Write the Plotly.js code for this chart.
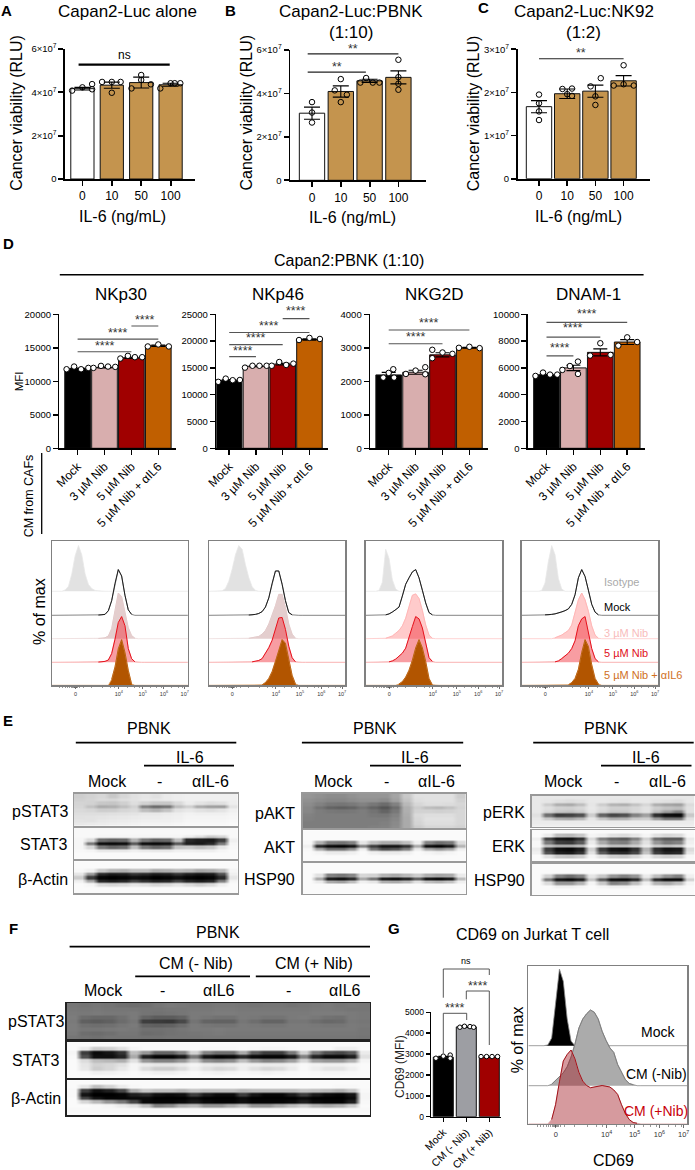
<!DOCTYPE html>
<html><head><meta charset="utf-8">
<script src="https://cdn.plot.ly/plotly-3.0.1.min.js"></script>
<style>html,body{margin:0;padding:0;background:#fff}</style></head>
<body><div id="chart" style="width:695px;height:1170px"></div>
<script>
/* ---------- bar chart values ---------- */
const doses=['0','10','50','100'];
const nibCats=['Mock','3 µM Nib','5 µM Nib','5 µM Nib + αIL6'];
const cmCats=['Mock','CM (- Nib)','CM (+ Nib)'];
const aMeans=[41.7e6,43.3e6,44.5e6,43.5e6], aErr=[.6e6,1.4e6,2.5e6,.7e6];
const aPts=[[40.8e6,42.3e6,43.8e6,41.4e6],[44.8e6,44.8e6,44.8e6,39.8e6],[41.8e6,45.7e6,43.7e6,48e6],[41.8e6,44.2e6,44.2e6,44.2e6]];
const aJit=[[-.35,0,.33,.33],[-.33,0,.3,0],[-.33,0,.33,0],[-.35,0,.33,.14]];
const bMeans=[30.9e6,40.9e6,45.8e6,47.4e6], bErr=[2.8e6,2.6e6,.7e6,3e6];
const bPts=[[36e6,31.2e6,26.6e6],[46.6e6,41.4e6,39.4e6,36e6],[45e6,47.1e6,45e6,45e6],[55.5e6,47.5e6,44.5e6,41.7e6]];
const bJit=[[0,0,0],[0,-.21,.21,0],[-.32,-.12,.11,.34],[0,0,0,0]];
const cMeans=[16.7e6,19.7e6,20.3e6,22.7e6], cErr=[1.4e6,1.1e6,1.4e6,1.2e6];
const cPts=[[19.5e6,17.5e6,15.6e6,13.6e6],[20.8e6,20.9e6,19.6e6,19.2e6],[21.4e6,23.3e6,19.1e6,17.1e6],[26.3e6,21.6e6,21.9e6,21.6e6]];
const cJit=[[0,0,0,0],[-.17,.17,0,.17],[-.17,.19,0,0],[0,-.35,0,.36]];
const nkp30Means=[11900,12050,13500,15300], nkp30Err=[90,70,90,100];
const nkp30Pts=[[11800,12200,11800,12000],[12000,12300,12200,12150],[13400,13800,13600,13600],[15200,15500,15200]];
const nkp46Means=[12700,15300,15700,20300], nkp46Err=[130,90,170,110];
const nkp46Pts=[[12400,13000,12700,12750],[15050,15400,15400,15400],[15400,16100,15550,15800],[20200,20600,20400]];
const nkg2dMeans=[2190,2270,2790,3000], nkg2dErr=[75,60,60,15];
const nkg2dPts=[[2110,2250,2360,2110],[2220,2320,2420,2210],[2940,2860,2820,2690],[3000,3030,2990]];
const dnamMeans=[5480,6000,7160,7930], dnamErr=[50,200,260,180];
const dnamPts=[[5400,5650,5500,5500],[5850,6140,6470,5550],[6920,7840,6970],[7660,8280,7930]];
const dnamJit=[[-.41,-.13,.13,.4],[-.41,-.13,.17,.17],[-.38,0,.38],[-.33,0,.37]];
const nkg2dJit=[[-.2,0,.17,.2],[-.36,0,.36,.36],[-.38,0,.37,-.38],[-.39,0,.38]];
const jit4=[[-.41,-.13,.13,.4],[-.41,-.13,.13,.4],[-.41,-.13,.13,.4],[-.39,0,.39]];
const cd69Means=[2850,4300,2860], cd69Err=[40,20,10];
const cd69Pts=[[2800,2900,2950,2800],[4285,4330,4315,4285],[2880,2880,2880,2880]];
const cd69Jit=[[-.32,0,.3,.3],[-.28,-.08,.16,.32],[-.36,-.12,.12,.36]];

/* ---------- flow histograms: channel grid and % of max ---------- */
const chan=[75,100,125,150,175,200,225,250,275,300,325,350,375,400,425,450,475,500,525,550,575,600,625,650,675,700,725];
const p1iso =[0,3,11,38,78,100,80,38,15,6,2,1,0,0,0,0,0,0,0,0,0,0,0,0,0,0,0];
const p1mock=[0,0,0,0,0,0,0,0,0,0,0,.5,1,2,10,32,70,100,86,44,12,2,0,0,0,0,0];
const p1n3  =[0,0,0,0,0,0,0,0,0,0,0,.5,1,2,6,22,62,100,92,55,24,7,1,0,0,0,0];
const p1n5  =[0,0,0,0,0,0,0,0,0,0,0,.5,1,2,5,19,50,87,100,80,30,8,1,0,0,0,0];
const p1il6 =[0,0,0,0,0,0,0,0,0,0,0,0,0,0,0,13,40,80,100,72,33,3,0,0,0,0,0];
const p2iso =[0,1,6,22,48,80,100,92,58,30,10,2,0,0,0,0,0,0,0,0,0,0,0,0,0,0,0];
const p2mock=[0,0,0,0,0,0,0,0,0,.5,1,2,4,8,18,38,70,97,97,68,32,6,1,0,0,0,0];
const p2n3  =[0,0,0,0,0,0,0,0,0,1,2,3,5,10,18,32,50,72,97,97,68,32,10,1,0,0,0];
const p2n5  =[0,0,0,0,0,0,0,0,0,0,1,2,4,8,19,32,48,75,97,98,72,35,10,1,0,0,0];
const p2il6 =[0,0,0,0,0,0,0,0,0,0,0,0,0,1,6,15,30,52,78,100,92,58,22,3,0,0,0];
const p3iso =[0,2,20,92,72,25,5,0,0,0,0,0,0,0,0,0,0,0,0,0,0,0,0,0,0,0,0];
const p3mock=[0,0,0,1,3,7,12,18,42,68,82,95,100,82,55,27,6,1,0,0,0,0,0,0,0,0,0];
const p3n3  =[0,0,0,1,3,6,12,18,28,45,70,95,98,88,62,30,8,1,0,0,0,0,0,0,0,0,0];
const p3n5  =[0,0,0,0,1,3,7,13,20,31,52,78,100,95,75,42,10,2,0,0,0,0,0,0,0,0,0];
const p3il6 =[0,0,0,0,0,0,0,3,8,18,33,55,82,100,82,52,15,1,0,0,0,0,0,0,0,0,0];
const p4iso =[0,0,0,2,18,65,100,80,28,5,0,0,0,0,0,0,0,0,0,0,0,0,0,0,0,0,0];
const p4mock=[0,0,0,0,1,1,2,3,5,7,10,14,24,45,82,100,85,55,24,7,1,0,0,0,0,0,0];
const p4n3  =[0,0,0,0,0,0,0,2,5,8,13,18,30,55,85,100,85,60,28,8,1,0,0,0,0,0,0];
const p4n5  =[0,0,0,0,0,0,0,1,3,8,14,20,30,47,80,95,100,65,30,8,1,0,0,0,0,0,0];
const p4il6 =[0,0,0,0,0,0,0,0,0,0,0,1,6,15,35,72,100,85,45,15,3,0,0,0,0,0,0];
const gBlack=[0,0,1,10,55,100,84,35,6,0,0,0,0,0,0,0,0,0,0,0,0,0,0,0,0,0,0];
const gGray =[0,0,0,2,7,12,17,25,38,55,76,88,95,100,97,88,72,60,50,44,28,18,8,3,1,0,0];
const gRed  =[0,0,0,6,26,57,85,94,100,88,70,58,52,49,50,52,52,51,50,46,40,26,14,6,2,1,0];
const flowMain=[177,504,684,844,1000];
const flowMainText=['0','10<sup>4</sup>','10<sup>5</sup>','10<sup>6</sup>','10<sup>7</sup>'];
const flowMinor=[60,80,100,118,132,144,154,162,168,172,182,188,196,210,235,300,380,440,475,570,620,660,740,790,825,900,950,985];

/* ---------- western blot intensities (grey level, rows top to bottom) ---------- */
const e15=v=>Array(15).fill(v), e25=v=>Array(25).fill(v);
const blotE1a=[[205,210,215,200,215,225,230,225,235,238,240,240,240,240,240],[208,212,218,215,222,226,232,230,235,238,240,240,240,240,240],[212,210,200,198,208,222,210,200,200,218,236,228,222,225,238],[214,195,172,176,192,210,130,108,118,190,208,172,160,158,228],[218,214,205,206,214,218,190,178,195,226,232,226,222,228,240],[222,222,222,224,226,228,232,232,235,238,242,240,240,240,244],[225,226,228,230,232,234,236,236,238,240,244,244,244,244,246],[228,226,232,234,236,238,240,240,240,242,246,246,246,246,248],[232,234,236,238,240,242,244,244,244,246,248,248,248,248,250]];
const blotE1b=[e15(248),e15(248),[248,248,246,246,246,246,246,246,246,246,238,225,205,215,248],[246,220,110,100,105,180,120,100,105,190,40,30,25,60,240],[246,120,15,10,15,90,15,10,15,90,30,25,40,120,246],[246,215,120,100,110,190,120,100,110,195,200,190,200,230,248],[248,245,232,232,232,240,234,232,232,240,240,238,238,246,250],e15(250),e15(250)];
const blotE1c=[e15(250),e15(250),[248,240,200,180,175,190,190,170,175,185,180,165,170,185,245],[230,150,40,25,30,50,40,25,30,50,30,20,25,80,240],[205,60,5,0,5,15,10,0,5,15,5,0,5,40,230],[240,170,40,30,40,70,50,35,40,70,40,30,40,130,245],[250,245,220,215,220,230,225,215,220,230,220,210,220,240,250],e15(250),e15(250)];
const blotE2a=[[150,145,140,140,145,150,150,150,165,200,225,225,225,225,205],[145,140,135,135,140,145,145,140,160,195,222,225,225,225,210],[140,130,120,118,122,130,120,108,130,185,215,222,222,220,215],[135,115,100,95,100,115,100,85,110,175,205,190,185,195,212],[135,125,120,118,120,125,115,100,120,175,210,210,208,210,215],[130,125,125,125,125,125,120,118,130,172,218,222,222,222,215],[128,125,125,125,125,125,125,125,135,170,215,225,225,225,215],[125,125,125,125,125,125,125,128,138,170,212,222,222,222,215],[125,125,125,125,125,125,128,130,140,170,205,215,215,215,210]];
const blotE2b=[e15(250),e15(250),e15(250),[248,175,120,115,130,230,190,170,170,190,240,130,110,120,220],[240,40,10,5,20,130,60,20,20,50,170,15,5,25,180],[248,170,115,115,150,240,120,80,90,130,235,170,150,170,240],[250,245,235,235,240,250,240,235,235,240,250,245,240,245,250],e15(250),e15(250)];
const blotE2c=[e15(250),e15(250),e15(250),[250,225,130,120,135,215,210,180,170,185,205,175,165,170,235],[250,170,30,20,45,170,120,30,20,40,100,25,15,30,190],[250,235,170,160,190,240,230,175,170,185,225,190,180,195,240],e15(250),e15(250),e15(250)];
const blotE3a=[e15(232),[232,230,225,222,225,232,232,230,228,232,232,228,225,222,232],[232,205,175,170,190,230,205,180,175,195,215,175,165,160,220],[232,222,210,208,215,232,220,208,208,215,225,205,195,190,225],[232,215,200,195,205,230,215,200,200,215,225,190,160,130,225],[225,110,60,65,80,205,100,70,80,130,160,45,15,10,200],[232,200,170,165,180,230,195,170,175,200,205,150,110,110,225],e15(235),e15(238)];
const blotE3b=[e15(250),[250,235,190,185,200,245,240,225,220,230,245,225,215,220,248],[240,70,25,20,50,220,130,100,90,130,210,110,90,90,235],[248,120,60,55,90,235,170,130,125,170,225,150,120,130,240],[248,190,170,170,185,245,215,190,190,205,235,200,190,200,245],[235,60,15,10,30,210,60,20,15,50,180,45,20,25,220],[240,80,30,25,50,225,90,45,40,70,195,60,35,40,230],[250,225,200,195,205,245,225,205,200,215,240,215,205,210,248],e15(250)];
const blotE3c=[e15(250),e15(250),e15(250),[250,210,130,110,130,230,200,150,130,150,235,190,150,130,240],[250,120,20,10,30,200,90,15,10,40,190,40,10,10,210],[250,220,150,150,180,245,200,130,140,190,240,180,170,190,245],[250,250,240,240,245,250,245,240,240,245,250,245,240,245,250],e15(250),e15(250)];
const blotFa=[[118,115,118,116,112,110,112,118,122,120,118,118,120,120,118,116,118,118,115,118,120,122,118,120,118],[120,118,120,118,118,118,116,116,118,118,120,120,122,122,120,120,120,120,120,120,122,122,120,118,118],[122,120,122,120,120,122,116,114,116,118,122,122,124,124,122,122,122,122,122,122,124,124,124,122,120],[124,108,104,104,112,122,100,92,92,98,122,118,114,114,122,120,116,116,122,124,120,114,112,122,120],[122,96,92,96,108,118,62,58,55,72,116,100,98,98,118,110,100,100,118,118,110,104,106,120,118],[124,112,110,112,118,122,98,95,98,108,122,118,116,116,122,120,118,118,122,122,120,118,118,122,120],[124,118,118,120,122,120,112,112,114,118,122,122,124,122,122,122,122,122,122,122,122,122,122,122,118],[122,110,108,112,118,118,108,110,114,116,118,120,122,120,120,120,120,120,120,120,120,120,120,120,118],[118,114,112,116,116,116,114,114,116,116,116,118,118,118,118,118,118,118,118,118,118,118,118,118,116]];
const blotFb=[e25(250),[250,235,205,210,225,245,250,250,250,250,250,248,248,248,250,248,246,246,248,250,250,250,240,240,250],[245,60,10,20,50,190,150,100,100,130,210,130,110,110,170,90,60,60,120,210,120,80,70,90,235],[248,80,15,15,35,170,30,5,5,25,120,20,5,10,40,10,5,5,25,130,35,10,10,30,225],[250,220,190,185,175,225,150,130,130,150,200,140,130,140,190,150,130,135,160,215,160,150,150,175,245],[250,230,210,215,225,245,235,230,230,235,245,235,232,235,240,238,235,235,240,248,242,240,240,245,250],[250,232,205,215,232,245,220,205,205,220,240,225,215,220,238,225,215,220,235,248,238,228,228,240,250],[250,248,240,242,246,250,245,240,240,245,250,245,242,245,248,245,242,245,248,250,248,246,246,248,250],e25(250)];
const blotFc=[e25(250),[250,230,190,210,235,248,250,250,250,250,250,250,250,250,250,250,250,250,250,250,250,250,248,248,250],[248,60,15,30,70,170,200,190,190,180,195,190,190,190,180,185,185,185,185,195,190,185,175,195,248],[248,20,0,0,5,30,40,15,10,15,60,25,10,10,60,20,5,5,25,60,25,10,5,20,245],[250,70,20,5,5,10,10,0,0,0,10,0,0,0,10,0,0,0,0,10,0,0,0,10,245],[250,215,185,150,120,70,10,5,5,10,25,10,5,5,15,5,5,5,10,30,10,5,5,30,248],[250,250,248,245,235,225,190,130,140,175,185,150,150,170,190,150,150,170,190,205,180,170,180,205,250],e25(248),e25(250)];

/* ---------- helpers ---------- */
const W=695,H=1170;
const SANS='"Liberation Sans",Arial,sans-serif';
const traces=[],annotations=[],shapes=[],layout={};
let axisN=0;
const px=x=>x/W, py=y=>1-y/H;
function T(x,y,text,size,opt={}){annotations.push({xref:'paper',yref:'paper',x:px(x),y:py(y),text,showarrow:false,
  xanchor:opt.anchor||'center',yanchor:'middle',textangle:opt.rot||0,borderpad:0,
  font:{family:SANS,size,color:opt.color||'#000',weight:opt.bold?700:400}});}
function L(x0,y0,x1,y1,w=1.5,color='#000'){shapes.push({type:'line',xref:'paper',yref:'paper',x0:px(x0),y0:py(y0),x1:px(x1),y1:py(y1),line:{width:w,color}});}
function axes(box,xc,yc){axisN++;const n=axisN,s=n===1?'':n;const [l,r,t,b]=box;
  const base={showgrid:false,zeroline:false,automargin:false,fixedrange:true};
  layout['xaxis'+s]=Object.assign({},base,{domain:[px(l),px(r)],anchor:'y'+s},xc);
  layout['yaxis'+s]=Object.assign({},base,{domain:[py(b),py(t)],anchor:'x'+s},yc);
  return {x:'x'+s,y:'y'+s};}
function barPanel(c){
  const [l,r,top,bot]=c.box;
  const ax=axes(c.box,
    {range:[(l-c.c0)/c.sp,(r-c.c0)/c.sp],tickmode:'array',tickvals:c.cats.map((_,i)=>i),ticktext:c.cats,tickangle:c.angle||0,
     ticks:'outside',ticklen:c.tlen||5,tickwidth:c.lw,tickcolor:'#000',showline:true,linecolor:'#000',linewidth:c.lw,
     tickfont:{family:SANS,size:c.xfont,color:'#000'}},
    {range:[0,c.ymax],tickmode:'array',tickvals:c.yv,ticktext:c.yt,ticks:'outside',ticklen:c.tlen||5,tickwidth:c.lw,tickcolor:'#000',
     showline:true,linecolor:'#000',linewidth:c.lw,tickfont:{family:SANS,size:c.yfont,color:'#000'}});
  traces.push({type:'bar',x:c.cats.map((_,i)=>i),y:c.means,width:c.bw,xaxis:ax.x,yaxis:ax.y,
    marker:{color:c.colors,line:{color:c.blc||'#111',width:1}},
    error_y:{type:'data',array:c.err,color:'#000',thickness:1.1,width:c.capw||8,symmetric:true}});
  c.pts.forEach((vals,i)=>traces.push({type:'scatter',mode:'markers',x:vals.map((_,j)=>i+c.jit[i][j]),y:vals,xaxis:ax.x,yaxis:ax.y,cliponaxis:false,
    marker:{size:c.ms||5.5,color:c.mfill,line:{color:'#000',width:1}}}));
  (c.sig||[]).forEach(s=>{
    traces.push({type:'scatter',mode:'lines',x:[s[0],s[1]],y:[s[2],s[2]],xaxis:ax.x,yaxis:ax.y,cliponaxis:false,line:{color:s[5]||'#555',width:s[6]||1.1}});
    if(s[4]) T(c.c0+c.sp*(s[0]+s[1])/2, bot-(s[3]/c.ymax)*(bot-top), s[4], 12.5, {color:'#333'});
  });
  return ax;
}
function flowPanel(box,series,tickSize){
  const ax=axes(box,
    {range:[0,1024],tickmode:'array',tickvals:flowMain,ticktext:flowMainText,ticks:'outside',ticklen:2.5,tickwidth:.7,tickcolor:'#333',
     minor:{tickmode:'array',tickvals:flowMinor,ticks:'outside',ticklen:1.5,tickwidth:.5,tickcolor:'#333'},
     showline:true,mirror:true,linecolor:'#808080',linewidth:1.3,tickfont:{family:SANS,size:tickSize,color:'#333'},tickangle:0},
    {range:[0,box[3]-box[2]],showticklabels:false,ticks:'',showline:true,mirror:true,linecolor:'#808080',linewidth:1.3});
  series.forEach(s=>{
    const yv=s.v.map(v=>s.base+v*s.scale);
    traces.push({type:'scatter',mode:'lines',x:[0,...chan,1024],y:[s.base,...yv,s.base],fill:'toself',fillcolor:s.fill,xaxis:ax.x,yaxis:ax.y,line:{color:s.basec,width:.8},hoverinfo:'skip'});
    if(s.line) traces.push({type:'scatter',mode:'lines',x:chan,y:s.v.map((v,i)=>v>0?yv[i]:null),xaxis:ax.x,yaxis:ax.y,line:{color:s.line,width:s.lw||1},hoverinfo:'skip'});
  });
}
/* each read grey level is shown as a small plateau so that the smoothing keeps the bands crisp */
const plateau=z=>z.flatMap(r=>{const row=r.flatMap(v=>[v,v]);return [row,row];});
function blot(box,z0,frame,fw){
  const z=plateau(z0);
  const ax=axes(box,{range:[-.5,z[0].length-.5],showticklabels:false,ticks:'',showline:true,mirror:true,linecolor:frame,linewidth:fw},
    {range:[z.length-.5,-.5],showticklabels:false,ticks:'',showline:true,mirror:true,linecolor:frame,linewidth:fw});
  traces.push({type:'heatmap',z,xaxis:ax.x,yaxis:ax.y,zmin:0,zmax:255,zsmooth:'best',showscale:false,hoverinfo:'skip',
    colorscale:[[0,'#000'],[1,'#fff']]});
}

/* ---------- panels A B C ---------- */
const TAN='#c4944e';
const tanColors=['#fff',TAN,TAN,TAN];
const sup7=(a)=>a+'×10<sup>7</sup>';
barPanel({box:[65.2,195,49,179],c0:82.4,sp:29.4,cats:doses,bw:.79,means:aMeans,err:aErr,pts:aPts,jit:aJit,colors:tanColors,mfill:'rgba(0,0,0,0)',
  ymax:6e7,yv:[0,2e7,4e7,6e7],yt:['0',sup7(2),sup7(4),sup7(6)],lw:1.8,xfont:12,yfont:9.5,
  sig:[[-.13,2.97,52.8e6,57.5e6,'','#000',2.2]]});
barPanel({box:[290.3,425.5,50,180.3],c0:312,sp:28.8,cats:doses,bw:.88,means:bMeans,err:bErr,pts:bPts,jit:bJit,colors:tanColors,mfill:'rgba(0,0,0,0)',
  ymax:6e7,yv:[0,2e7,4e7,6e7],yt:['0',sup7(2),sup7(4),sup7(6)],lw:1.8,xfont:12,yfont:9.5,
  sig:[[-.15,3,58.2e6,60.5e6,'**','#222',1.1],[-.15,1.87,49.8e6,52e6,'**','#222',1.1]]});
barPanel({box:[517.7,650.3,49.3,178.7],c0:539,sp:28.2,cats:doses,bw:.9,means:cMeans,err:cErr,pts:cPts,jit:cJit,colors:tanColors,mfill:'rgba(0,0,0,0)',
  ymax:3e7,yv:[0,1e7,2e7,3e7],yt:['0',sup7(1),sup7(2),sup7(3)],lw:1.8,xfont:12,yfont:9.5,
  sig:[[0,3,27.8e6,29.2e6,'**','#222',1.1]]});
T(6.6,11,'A',15,{bold:1});T(230.5,11,'B',15,{bold:1});T(483.2,8,'C',15,{bold:1});
T(127.2,12,'Capan2-Luc alone',17);T(351,12,'Capan2-Luc:PBNK',17);T(351,32,'(1:10)',17);T(583.8,12,'Capan2-Luc:NK92',17);T(583.8,32,'(1:2)',17);
[16.8,246.5,474.3].forEach(x=>T(x,113,'Cancer viability (RLU)',16,{rot:-90}));
T(122.8,216,'IL-6 (ng/mL)',16);T(352,217,'IL-6 (ng/mL)',16);T(578.9,216,'IL-6 (ng/mL)',16);
T(124.1,55.3,'ns',12);

/* ---------- panel D bars ---------- */
const nibColors=['#000','#d8aeae','#a00000','#c05f00'];
const dCfg={cats:nibCats,bw:.955,colors:nibColors,mfill:'#fff',lw:1.5,xfont:12,yfont:9.5,angle:-45,capw:7};
const S='****';
barPanel({...dCfg,box:[59.4,176.4,314.3,448.3],c0:77.6,sp:26.9,means:nkp30Means,err:nkp30Err,pts:nkp30Pts,jit:jit4,
  ymax:20000,yv:[0,5000,10000,15000,20000],yt:['0','5000','10000','15000','20000'],
  sig:[[0,2,14400,15300,S],[0,3,16300,17200,S],[2,3,18260,19200,S]]});
barPanel({...dCfg,box:[216.3,328,314.3,448.3],c0:229.2,sp:26.75,means:nkp46Means,err:nkp46Err,pts:nkp46Pts,jit:jit4,
  ymax:25000,yv:[0,5000,10000,15000,20000,25000],yt:['0','5000','10000','15000','20000','25000'],
  sig:[[0,1,17100,18200,S],[0,2,19350,20600,S],[0,3,21600,22900,S],[2,3,24200,25600,S]]});
barPanel({...dCfg,box:[370.1,487.6,314.3,448.3],c0:388.7,sp:26.9,means:nkg2dMeans,err:nkg2dErr,pts:nkg2dPts,jit:nkg2dJit,
  ymax:4000,yv:[0,1000,2000,3000,4000],yt:['0','1000','2000','3000','4000'],
  sig:[[0,2,3120,3330,S],[0,3,3530,3740,S]]});
barPanel({...dCfg,box:[527.9,645.4,314.3,448.3],c0:546.5,sp:26.9,means:dnamMeans,err:dnamErr,pts:dnamPts,jit:dnamJit,
  ymax:10000,yv:[0,2000,4000,6000,8000,10000],yt:['0','2000','4000','6000','8000','10000'],
  sig:[[0,1,6900,7500,S],[0,2,8300,9000,S],[0,3,9400,10000,S]]});
T(8,243,'D',15,{bold:1});
T(349.3,260.7,'Capan2:PBNK (1:10)',16);L(59.8,274.7,643.6,274.7,1.6);
T(120.6,294,'NKp30',17);T(277.9,294,'NKp46',17);T(434,294,'NKG2D',17);T(588.2,294,'DNAM-1',17);
T(18.6,381.7,'MFI',11.5,{rot:-90});
T(29.3,496,'CM from CAFs',12.5,{rot:-90});L(41.7,453,41.7,534,1.3);

/* ---------- panel D flow ---------- */
const flowBoxes=[[51.9,187.9,541,685.3],[208.8,345.3,541,685.3],[365.7,502.2,541,685.3],[521.7,658.3,541,685.3]];
const flowData=[[p1iso,p1mock,p1n3,p1n5,p1il6],[p2iso,p2mock,p2n3,p2n5,p2il6],[p3iso,p3mock,p3n3,p3n5,p3il6],[p4iso,p4mock,p4n3,p4n5,p4il6]];
const rowBase=[94,70,46.6,23,0];
flowData.forEach((d,i)=>{
  const pale=i>=2;
  flowPanel(flowBoxes[i],[
    {v:d[0],base:rowBase[0],scale:.457,fill:'#e2e2e2',basec:'#e8e8e8'},
    {v:d[1],base:rowBase[1],scale:.457,fill:'rgba(0,0,0,0)',basec:'#666',line:'#111',lw:.9},
    {v:d[2],base:rowBase[2],scale:.457,fill:pale?'rgba(255,130,130,.42)':'rgba(185,125,125,.38)',basec:pale?'#ffc8c8':'#eedddd',line:pale?'#ffb0b0':'#e0c4c4',lw:.8},
    {v:d[3],base:rowBase[3],scale:.457,fill:'rgba(240,50,60,.48)',basec:'#f7a0a0',line:'#e6101c',lw:1},
    {v:d[4],base:rowBase[4],scale:.457,fill:'#b25500',basec:'#e0a060',line:'#b25500',lw:.8}
  ],5.5);
});
T(39,612,'% of max',16,{rot:-90});
T(602.8,581.7,'Isotype',11,{anchor:'left',color:'#aaa'});
T(602.8,607,'Mock',11,{anchor:'left'});
T(602.8,632.7,'3 µM Nib',11,{anchor:'left',color:'#f8bcbc'});
T(602.8,653,'5 µM Nib',11,{anchor:'left',color:'#e01020'});
T(602.8,675,'5 µM Nib + αIL6',11,{anchor:'left',color:'#d0701e'});

/* ---------- panel E ---------- */
T(8,720,'E',15,{bold:1});
const eCols=[
 {pb:149.4,pbl:[75.8,236.3],il:189.7,ill:[144,234],m:107.3,d:159.6,a:210.5,box:[74,237.6],rows:[[793.7,825.7],[827.7,859],[861.3,893.3]],names:['pSTAT3','STAT3','β-Actin'],lab:68.7,ly:[811,844.7,879],z:[blotE1a,blotE1b,blotE1c]},
 {pb:375.4,pbl:[301.9,463.2],il:415.3,ill:[370,461],m:333.8,d:386,a:436.6,box:[302.7,465.9],rows:[[793.7,828.3],[830.3,861],[863,893.7]],names:['pAKT','AKT','HSP90'],lab:296,ly:[813,847,879.3],z:[blotE2a,blotE2b,blotE2c]},
 {pb:606.4,pbl:[533.2,693.7],il:646.3,ill:[601,691.5],m:563.8,d:616,a:667,box:[531.5,694.5],rows:[[795.7,827],[830,861],[863.7,895]],names:['pERK','ERK','HSP90'],lab:526,ly:[812.7,846.7,880],z:[blotE3a,blotE3b,blotE3c]}];
eCols.forEach(c=>{
  T(c.pb,728.7,'PBNK',16);L(c.pbl[0],742.7,c.pbl[1],742.7,1.7);
  T(c.il,757,'IL-6',16);L(c.ill[0],765.7,c.ill[1],765.7,1.7);
  T(c.m,781.7,'Mock',16);T(c.d,781.7,'-',16);T(c.a,781.7,'αIL-6',16);
  c.rows.forEach((r,i)=>{blot([c.box[0],c.box[1],r[0],r[1]],c.z[i],'#999',1.4);T(c.lab,c.ly[i],c.names[i],16,{anchor:'right'});});
});

/* ---------- panel F ---------- */
T(13.3,928,'F',15,{bold:1});
T(218,932.7,'PBNK',16);L(69.6,946.7,370,946.7,1.7);
T(196,963.3,'CM (- Nib)',16);L(135.2,976.3,250,976.3,1.7);
T(313.8,963.3,'CM (+ Nib)',16);L(255.8,976.3,370,976.3,1.7);
T(103.7,990,'Mock',16);T(162.2,990,'-',16);T(218.5,990,'αIL6',16);T(288.6,990,'-',16);T(344.9,990,'αIL6',16);
blot([66.5,370,1003,1039.3],blotFa,'#222',1.2);
blot([66.5,370,1042.3,1078],blotFb,'#222',1.2);
blot([66.5,370,1080.3,1115.3],blotFc,'#222',1.2);
T(65,1021.7,'pSTAT3',16,{anchor:'right'});T(36.3,1060,'STAT3',16);T(36.3,1098,'β-Actin',16);

/* ---------- panel G ---------- */
T(394.5,928,'G',15,{bold:1});T(532,934.3,'CD69 on Jurkat T cell',16);
barPanel({box:[431,501,1012.3,1116.7],c0:443.3,sp:23,cats:cmCats,bw:.87,means:cd69Means,err:cd69Err,pts:cd69Pts,jit:cd69Jit,colors:['#000','#9d9ea3','#a00000'],mfill:'#fff',
  ymax:5000,yv:[0,1000,2000,3000,4000,5000],yt:['0','1000','2000','3000','4000','5000'],lw:1.4,xfont:10.5,yfont:8.5,angle:-45,tlen:4,capw:5,ms:4.5});
T(399.3,1066.7,'CD69 (MFI)',12,{rot:-90,color:'#222'});
[[443.3,1053.3,443.3,1013.3],[443.3,1013.3,466.7,1013.3],[466.7,1013.3,466.7,1020],
 [466.3,999.3,466.3,991],[466.3,991,489.3,991],[489.3,991,489.3,1045],
 [443.3,997.7,443.3,969],[443.3,969,489.3,969],[489.3,969,489.3,975]].forEach(s=>L(s[0],s[1],s[2],s[3],.9,'#444'));
T(455,1008,S,12.5,{color:'#333'});T(478,985.5,S,12.5,{color:'#333'});T(466,961,'ns',9);
flowPanel([528.4,687.3,966,1124],[
  {v:gBlack,base:78.3,scale:.767,fill:'#000',basec:'#888'},
  {v:gGray,base:38.3,scale:.757,fill:'#ababab',basec:'#888',line:'#777',lw:.8},
  {v:gRed,base:0,scale:.74,fill:'rgba(165,30,40,.45)',basec:'#d8a0a0',line:'#a01018',lw:1}
],7.5);
T(517.3,1040,'% of max',16,{rot:-90});T(658.3,1031.7,'Mock',14);T(656.7,1074,'CM (-Nib)',14);T(655.7,1110.7,'CM (+Nib)',14,{color:'#c8000a'});T(613.9,1160.7,'CD69',16);

Object.assign(layout,{width:W,height:H,margin:{l:0,r:0,t:0,b:0},paper_bgcolor:'#fff',plot_bgcolor:'rgba(0,0,0,0)',showlegend:false,barmode:'overlay',annotations,shapes});
Plotly.newPlot('chart',traces,layout,{staticPlot:true,displayModeBar:false});
</script></body></html>
